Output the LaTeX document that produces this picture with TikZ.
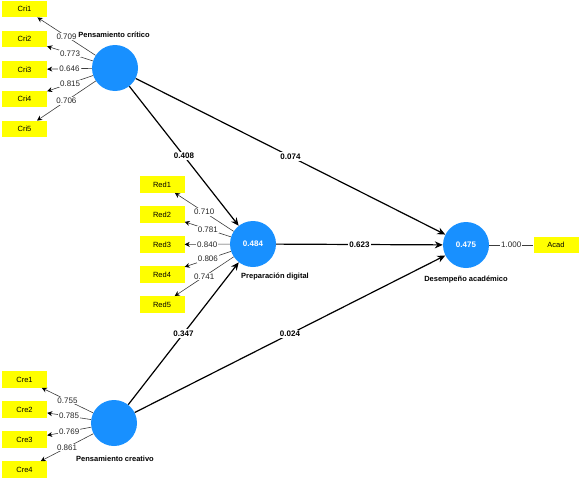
\documentclass[tikz,border=0pt]{standalone}
\usepackage{fontspec}
\setmainfont{Liberation Sans}
\usetikzlibrary{arrows.meta}
\definecolor{lvblue}{RGB}{24,144,255}
\definecolor{indyel}{RGB}{255,255,0}
\definecolor{ldgray}{RGB}{60,60,60}
\tikzset{
  lv/.style={circle,fill=lvblue,minimum size=46pt,inner sep=0pt,text=white,font=\fontsize{8}{9}\selectfont\bfseries},
  ind/.style={rectangle,fill=indyel,minimum width=45pt,minimum height=16.5pt,inner sep=0pt,font=\fontsize{7.5}{8}\selectfont},
  lvname/.style={font=\fontsize{7.5}{8}\selectfont\bfseries,inner sep=0pt},
  load/.style={draw=ldgray,line width=0.6pt,-{Stealth[length=5pt,width=5pt,black]}},
  loadplain/.style={draw=ldgray,line width=0.6pt},
  llbl/.style={fill=white,inner sep=1pt,font=\fontsize{8}{9}\selectfont,text=black!85},
  pth/.style={draw=black,line width=1.2pt,-{Stealth[length=8pt,width=7pt]}},
  plbl/.style={fill=white,inner sep=1.2pt,font=\fontsize{8}{9}\selectfont\bfseries}
}
\begin{document}
\begin{tikzpicture}[x=1pt,y=-1pt]
\useasboundingbox (0,0) rectangle (580,479);
% latent variables
\node[lv] (crit) at (115,68) {};
\node[lv] (red) at (253,244) {0.484};
\node[lv] (des) at (466,245) {0.475};
\node[lv] (cre) at (114,423) {};
% names
\node[lvname] (critn) at (114,35) {Pensamiento crítico};
\node[lvname] (redn) at (275,277) {Preparación digital};
\node[lvname] (desn) at (466,280) {Desempeño académico};
\node[lvname] (cren) at (115,459) {Pensamiento creativo};
% indicators
\node[ind] (cri1) at (24.5,9) {Cri1};
\node[ind] (cri2) at (24.5,39) {Cri2};
\node[ind] (cri3) at (24.5,69.5) {Cri3};
\node[ind] (cri4) at (24.5,99) {Cri4};
\node[ind] (cri5) at (24.5,129) {Cri5};
\node[ind] (red1) at (162,184.5) {Red1};
\node[ind] (red2) at (162,214.5) {Red2};
\node[ind] (red3) at (162,244.5) {Red3};
\node[ind] (red4) at (162,274.5) {Red4};
\node[ind] (red5) at (162,304.5) {Red5};
\node[ind] (cre1) at (24.5,379.5) {Cre1};
\node[ind] (cre2) at (24.5,409.5) {Cre2};
\node[ind] (cre3) at (24.5,439.5) {Cre3};
\node[ind] (cre4) at (24.5,469.5) {Cre4};
\node[ind] (acad) at (556,245) {Acad};
% loadings
\draw[load] (crit) -- node[llbl]{0.709} (cri1);
\draw[load] (crit) -- node[llbl]{0.773} (cri2);
\draw[load] (crit) -- node[llbl]{0.646} (cri3);
\draw[load] (crit) -- node[llbl]{0.815} (cri4);
\draw[load] (crit) -- node[llbl]{0.706} (cri5);
\draw[load] (red) -- node[llbl]{0.710} (red1);
\draw[load] (red) -- node[llbl]{0.781} (red2);
\draw[load] (red) -- node[llbl]{0.840} (red3);
\draw[load] (red) -- node[llbl]{0.806} (red4);
\draw[load] (red) -- node[llbl]{0.741} (red5);
\draw[load] (cre) -- node[llbl]{0.755} (cre1);
\draw[load] (cre) -- node[llbl]{0.785} (cre2);
\draw[load] (cre) -- node[llbl]{0.769} (cre3);
\draw[load] (cre) -- node[llbl]{0.861} (cre4);
\draw[loadplain] (des) -- node[llbl]{1.000} (acad);
% paths
\draw[pth] (crit) -- node[plbl]{0.408} (red);
\draw[pth] (crit) -- node[plbl]{0.074} (des);
\draw[pth] (red) -- node[plbl]{0.623} (des);
\draw[pth] (cre) -- node[plbl]{0.347} (red);
\draw[pth] (cre) -- node[plbl]{0.024} (des);
\end{tikzpicture}
\end{document}
